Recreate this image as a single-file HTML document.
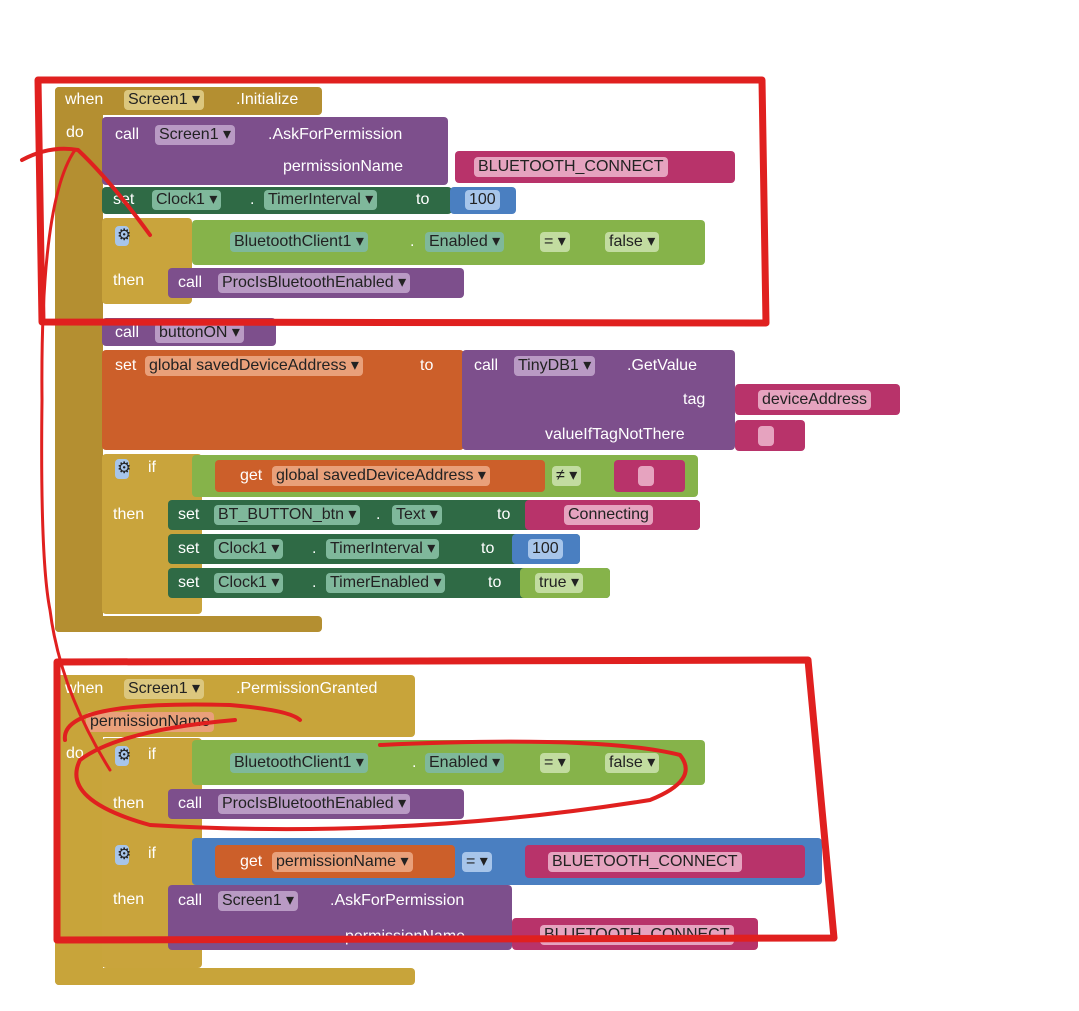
<!DOCTYPE html>
<html><head><meta charset="utf-8"><style>
body{margin:0;width:1079px;height:1011px;background:#fff;position:relative;overflow:hidden;font-family:"Liberation Sans",sans-serif;}
.b{position:absolute;border-radius:4px;}
.t{position:absolute;color:#fff;font-size:16px;white-space:nowrap;}
.f{position:absolute;border-radius:4px;font-size:16px;color:#222;padding:0 4px;white-space:nowrap;line-height:20px;height:20px;}
.g{background:#b48f31}.gl{background:#c9a43c}.p{background:#7d4f8c}.dg{background:#2f6a45}.lg{background:#86b34a}
.o{background:#cc5f2a}.m{background:#b8336a}.bl{background:#4a7fc1}
.pf{background:#b99ac4}.tf{background:#7fb89b}.of{background:#e9a07a}.lf{background:#c2dca0}.mf{background:#e6a3bf}.bf{background:#a7c5ea}.gf{background:#dcc77e}
</style></head><body>
<!-- block 1 -->
<div class="b g" style="left:55px;top:87px;width:267px;height:28px"></div>
<div class="b g" style="left:55px;top:87px;width:48px;height:545px"></div>
<div class="b g" style="left:55px;top:616px;width:267px;height:16px"></div>
<div class="t" style="left:65px;top:91px">when</div><div class="f gf" style="left:124px;top:90px">Screen1 ▾</div><div class="t" style="left:236px;top:91px">.Initialize</div>
<div class="t" style="left:66px;top:124px">do</div>
<div class="b p" style="left:102px;top:117px;width:346px;height:68px"></div>
<div class="t" style="left:115px;top:126px">call</div><div class="f pf" style="left:155px;top:125px">Screen1 ▾</div><div class="t" style="left:268px;top:126px">.AskForPermission</div>
<div class="t" style="left:283px;top:158px">permissionName</div>
<div class="b m" style="left:455px;top:151px;width:280px;height:32px"></div><div class="f mf" style="left:474px;top:157px">BLUETOOTH_CONNECT</div>
<div class="b dg" style="left:102px;top:187px;width:350px;height:27px"></div>
<div class="t" style="left:113px;top:191px">set</div><div class="f tf" style="left:152px;top:190px">Clock1 ▾</div><div class="t" style="left:250px;top:191px">.</div><div class="f tf" style="left:264px;top:190px">TimerInterval ▾</div><div class="t" style="left:416px;top:191px">to</div>
<div class="b bl" style="left:450px;top:187px;width:66px;height:27px"></div><div class="f bf" style="left:465px;top:190px">100</div>
<div class="b gl" style="left:102px;top:218px;width:90px;height:86px"></div>
<div class="b lg" style="left:192px;top:220px;width:513px;height:45px"></div>
<div class="f tf" style="left:230px;top:232px">BluetoothClient1 ▾</div><div class="t" style="left:410px;top:233px">.</div><div class="f tf" style="left:425px;top:232px">Enabled ▾</div>
<div class="f lf" style="left:540px;top:232px">= ▾</div><div class="f lf" style="left:605px;top:232px">false ▾</div>
<div class="f bf" style="left:115px;top:226px;width:10px;padding:0 2px">⚙</div>
<div class="t" style="left:113px;top:272px">then</div>
<div class="b p" style="left:168px;top:268px;width:296px;height:30px"></div>
<div class="t" style="left:178px;top:274px">call</div><div class="f pf" style="left:218px;top:273px">ProcIsBluetoothEnabled ▾</div>
<div class="b p" style="left:102px;top:318px;width:174px;height:28px"></div>
<div class="t" style="left:115px;top:324px">call</div><div class="f pf" style="left:155px;top:323px">buttonON ▾</div>
<div class="b o" style="left:102px;top:350px;width:362px;height:100px"></div>
<div class="t" style="left:115px;top:357px">set</div><div class="f of" style="left:145px;top:356px">global savedDeviceAddress ▾</div><div class="t" style="left:420px;top:357px">to</div>
<div class="b p" style="left:462px;top:350px;width:273px;height:100px"></div>
<div class="t" style="left:474px;top:357px">call</div><div class="f pf" style="left:514px;top:356px">TinyDB1 ▾</div><div class="t" style="left:627px;top:357px">.GetValue</div>
<div class="t" style="left:683px;top:391px">tag</div><div class="t" style="left:545px;top:426px">valueIfTagNotThere</div>
<div class="b m" style="left:735px;top:384px;width:165px;height:31px"></div><div class="f mf" style="left:758px;top:390px">deviceAddress</div>
<div class="b m" style="left:735px;top:420px;width:70px;height:31px"></div><div class="f mf" style="left:758px;top:426px;width:8px"></div>
<div class="b gl" style="left:102px;top:454px;width:100px;height:160px"></div>
<div class="f bf" style="left:115px;top:459px;width:10px;padding:0 2px">⚙</div><div class="t" style="left:148px;top:459px">if</div>
<div class="b lg" style="left:192px;top:455px;width:506px;height:42px"></div>
<div class="b o" style="left:215px;top:460px;width:330px;height:32px"></div>
<div class="t" style="left:240px;top:467px">get</div><div class="f of" style="left:272px;top:466px">global savedDeviceAddress ▾</div>
<div class="f lf" style="left:552px;top:466px">≠ ▾</div>
<div class="b m" style="left:614px;top:460px;width:71px;height:32px"></div><div class="f mf" style="left:638px;top:466px;width:8px"></div>
<div class="t" style="left:113px;top:506px">then</div>
<div class="b dg" style="left:168px;top:500px;width:532px;height:30px"></div>
<div class="t" style="left:178px;top:506px">set</div><div class="f tf" style="left:214px;top:505px">BT_BUTTON_btn ▾</div><div class="t" style="left:376px;top:506px">.</div><div class="f tf" style="left:392px;top:505px">Text ▾</div><div class="t" style="left:497px;top:506px">to</div>
<div class="b m" style="left:525px;top:500px;width:175px;height:30px"></div><div class="f mf" style="left:564px;top:505px">Connecting</div>
<div class="b dg" style="left:168px;top:534px;width:412px;height:30px"></div>
<div class="t" style="left:178px;top:540px">set</div><div class="f tf" style="left:214px;top:539px">Clock1 ▾</div><div class="t" style="left:312px;top:540px">.</div><div class="f tf" style="left:326px;top:539px">TimerInterval ▾</div><div class="t" style="left:481px;top:540px">to</div>
<div class="b bl" style="left:512px;top:534px;width:68px;height:30px"></div><div class="f bf" style="left:528px;top:539px">100</div>
<div class="b dg" style="left:168px;top:568px;width:442px;height:30px"></div>
<div class="t" style="left:178px;top:574px">set</div><div class="f tf" style="left:214px;top:573px">Clock1 ▾</div><div class="t" style="left:312px;top:574px">.</div><div class="f tf" style="left:326px;top:573px">TimerEnabled ▾</div><div class="t" style="left:488px;top:574px">to</div>
<div class="b lg" style="left:520px;top:568px;width:90px;height:30px"></div><div class="f lf" style="left:535px;top:573px">true ▾</div>
<!-- block 2 -->
<div class="b gl" style="left:55px;top:675px;width:360px;height:62px;background:#c8a43a"></div>
<div class="b gl" style="left:55px;top:675px;width:48px;height:310px;background:#c8a43a"></div>
<div class="b gl" style="left:55px;top:968px;width:360px;height:17px;background:#c8a43a"></div>
<div class="t" style="left:65px;top:680px">when</div><div class="f gf" style="left:124px;top:679px">Screen1 ▾</div><div class="t" style="left:236px;top:680px">.PermissionGranted</div>
<div class="f of" style="left:86px;top:712px">permissionName</div>
<div class="t" style="left:66px;top:745px">do</div>
<div class="b gl" style="left:102px;top:738px;width:100px;height:230px"></div>
<div class="f bf" style="left:115px;top:746px;width:10px;padding:0 2px">⚙</div><div class="t" style="left:148px;top:746px">if</div>
<div class="b lg" style="left:192px;top:740px;width:513px;height:45px"></div>
<div class="f tf" style="left:230px;top:753px">BluetoothClient1 ▾</div><div class="t" style="left:412px;top:754px">.</div><div class="f tf" style="left:425px;top:753px">Enabled ▾</div>
<div class="f lf" style="left:540px;top:753px">= ▾</div><div class="f lf" style="left:605px;top:753px">false ▾</div>
<div class="t" style="left:113px;top:795px">then</div>
<div class="b p" style="left:168px;top:789px;width:296px;height:30px"></div>
<div class="t" style="left:178px;top:795px">call</div><div class="f pf" style="left:218px;top:794px">ProcIsBluetoothEnabled ▾</div>
<div class="f bf" style="left:115px;top:845px;width:10px;padding:0 2px">⚙</div><div class="t" style="left:148px;top:845px">if</div>
<div class="b bl" style="left:192px;top:838px;width:630px;height:47px"></div>
<div class="b o" style="left:215px;top:845px;width:240px;height:33px"></div>
<div class="t" style="left:240px;top:853px">get</div><div class="f of" style="left:272px;top:852px">permissionName ▾</div>
<div class="f bf" style="left:462px;top:852px">= ▾</div>
<div class="b m" style="left:525px;top:845px;width:280px;height:33px"></div><div class="f mf" style="left:548px;top:852px">BLUETOOTH_CONNECT</div>
<div class="t" style="left:113px;top:891px">then</div>
<div class="b p" style="left:168px;top:885px;width:344px;height:65px"></div>
<div class="t" style="left:178px;top:892px">call</div><div class="f pf" style="left:218px;top:891px">Screen1 ▾</div><div class="t" style="left:330px;top:892px">.AskForPermission</div>
<div class="t" style="left:345px;top:928px">permissionName</div>
<div class="b m" style="left:512px;top:918px;width:246px;height:32px"></div><div class="f mf" style="left:540px;top:925px">BLUETOOTH_CONNECT</div>
<!-- red annotations -->
<svg style="position:absolute;left:0;top:0" width="1079" height="1011">
<g fill="none" stroke="#e0201f" stroke-linecap="round" stroke-linejoin="round">
<path d="M38,80 L762,80 L766,323 L42,322 Z" stroke-width="7"/>
<path d="M57,662 L808,660 L834,938 L57,940 Z" stroke-width="7"/>
<path d="M22,160 Q50,145 78,150 Q110,180 150,235" stroke-width="4"/>
<path d="M75,150 Q40,200 42,400 Q40,560 50,610 Q60,690 110,770" stroke-width="3"/>
<path d="M65,740 Q60,700 230,705 Q290,710 300,720 M235,720 Q120,730 80,760 Q60,800 150,825 Q400,840 650,800 Q700,780 680,755 Q600,735 380,745" stroke-width="4"/>
</g></svg>
</body></html>
